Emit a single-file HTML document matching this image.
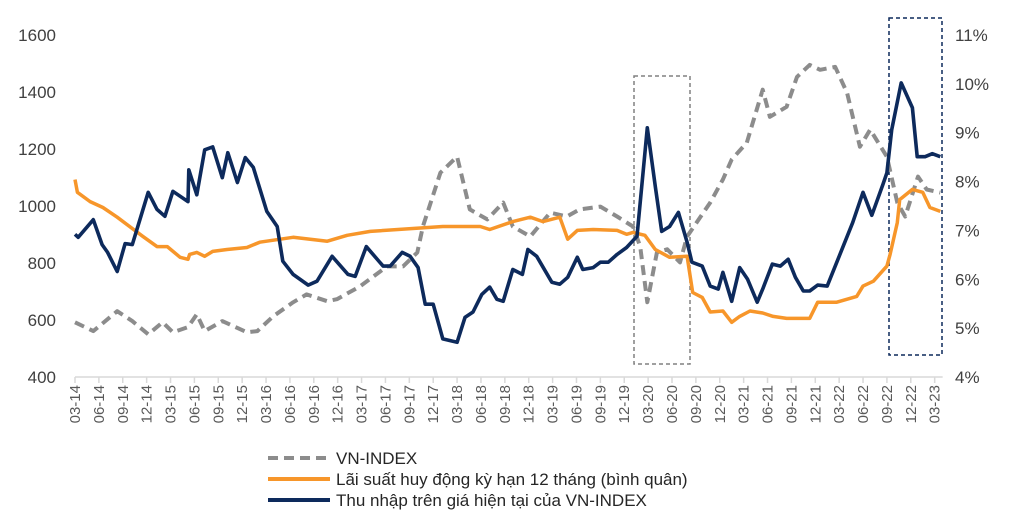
<!DOCTYPE html>
<html><head><meta charset="utf-8"><style>
body{margin:0;background:#fff;width:1016px;height:524px;overflow:hidden;font-family:"Liberation Sans",sans-serif}
svg text{font-family:"Liberation Sans",sans-serif}
</style></head><body>
<svg id="chart" width="1016" height="524" xmlns="http://www.w3.org/2000/svg"></svg>
<script>
const xLabels=["03-14","06-14","09-14","12-14","03-15","06-15","09-15","12-15","03-16","06-16","09-16","12-16","03-17","06-17","09-17","12-17","03-18","06-18","09-18","12-18","03-19","06-19","09-19","12-19","03-20","06-20","09-20","12-20","03-21","06-21","09-21","12-21","03-22","06-22","09-22","12-22","03-23"];
const leftTicks=[400,600,800,1000,1200,1400,1600];
const rightTicks=[4,5,6,7,8,9,10,11];
const vnMonths=[0,2.3,5.3,7.2,9.2,11,12.3,14.2,15.3,16.3,18.5,21.6,22.9,24.9,27.4,29.1,31.7,32.9,35.8,39.2,41.2,43,43.7,45.9,48,49.6,51.8,53.8,55,57.2,59.7,61.8,63.4,66,68.1,70.1,71,71.9,73.1,74.4,76,76.9,79.8,81.4,82.5,84.4,86.4,87.3,89.4,90.7,92.3,93.6,95.5,97,98.6,99.9,102,103.3,104.3,105.9,107,108.7];
const vnValues=[592,561,631,596,550,592,557,575,620,561,596,557,561,613,662,690,666,673,718,788,788,837,928,1117,1173,988,953,1012,928,893,977,963,988,998,963,928,858,662,837,848,802,893,1012,1093,1163,1222,1408,1313,1348,1453,1495,1478,1488,1397,1208,1268,1173,1012,963,1103,1058,1047];
const rateMonths=[0,0.3,1.9,3.5,5.3,8.5,10.3,11.6,13.2,14.2,14.4,15.3,16.3,17.3,19.1,21.6,23.2,27.4,31.7,34.2,37.1,46.2,50.9,52.1,55,57.2,58.8,60.9,61.9,63.1,65.1,68.1,69.3,70.1,71.6,72.9,74.7,76.9,77.6,78.8,79.8,81.4,82.5,83.5,84.8,86.4,87.7,89.4,92.3,93.3,95.7,98.2,99,100.3,102,102.4,103.3,103.6,105.2,106.5,107.4,108.7];
const rateValues=[8.04,7.78,7.59,7.47,7.27,6.88,6.67,6.67,6.45,6.41,6.51,6.55,6.47,6.57,6.61,6.65,6.76,6.86,6.78,6.90,6.98,7.08,7.08,7.02,7.18,7.27,7.18,7.27,6.82,7.0,7.02,7.0,6.92,6.96,6.90,6.61,6.45,6.47,5.73,5.63,5.33,5.35,5.12,5.24,5.35,5.31,5.24,5.20,5.20,5.53,5.53,5.65,5.86,5.96,6.27,6.51,7.16,7.63,7.84,7.78,7.47,7.39];
const eyMonths=[0,0.4,2.3,3.4,4.1,5.3,6.3,7.2,9.2,10.3,11.3,12.3,14.2,14.3,15.3,16.3,17.3,18.5,19.2,20.4,21.4,22.4,24.1,25.4,26.1,27.4,29.3,30.4,32.3,34.3,35.2,36.6,38.7,39.6,41.1,42.1,43.1,44,45,46.2,48,49,50,51.1,52.1,53,53.8,55,56.2,56.9,58,59.9,60.9,61.9,63.1,63.8,65.1,66,67,68.1,69.3,70.6,71.9,72.9,73.7,74.7,75.8,76.9,77.5,78.8,79.8,80.8,81.4,82.5,83.5,84.5,85.7,86.4,87.6,88.6,89.6,90.5,91.5,92.3,93.3,94.5,95.7,97.7,99,100.1,101.5,102,102.6,103.8,105.2,105.8,106.8,107.7,108.7];
const eyValues=[6.92,6.86,7.22,6.71,6.55,6.16,6.73,6.71,7.78,7.43,7.29,7.80,7.59,8.24,7.73,8.65,8.71,8.08,8.59,7.98,8.49,8.29,7.39,7.08,6.37,6.10,5.88,5.96,6.47,6.10,6.06,6.67,6.27,6.27,6.55,6.47,6.24,5.49,5.49,4.78,4.71,5.22,5.33,5.69,5.84,5.59,5.55,6.20,6.10,6.61,6.47,5.94,5.90,6.04,6.45,6.20,6.24,6.35,6.35,6.51,6.65,6.88,9.10,7.90,6.98,7.08,7.37,6.76,6.35,6.27,5.86,5.80,6.14,5.55,6.24,6.0,5.53,5.80,6.31,6.27,6.41,6.04,5.76,5.76,5.88,5.86,6.35,7.16,7.78,7.31,7.94,8.18,9.06,10.02,9.51,8.51,8.51,8.57,8.51];

const NS="http://www.w3.org/2000/svg";
const svg=document.getElementById('chart');
const X0=75,DX=7.96,YT=35,YB=377;
const xM=m=>X0+m*DX;
const yL=v=>YB-(v-400)/1200*(YB-YT);
const yR=p=>YB-(p-4)/7*(YB-YT);
function mk(tag,attrs,parent){const e=document.createElementNS(NS,tag);for(const k in attrs)e.setAttribute(k,attrs[k]);(parent||svg).appendChild(e);return e;}

const ax=mk('line',{x1:X0,y1:YB,x2:X0+36*3*DX+8,y2:YB,stroke:'#d9d9d9','stroke-width':1.5});


xLabels.forEach((l,i)=>{
  const x=xM(i*3);
  const t=mk('line',{x1:x,y1:YB,x2:x,y2:YB+6,stroke:'#d9d9d9','stroke-width':1.5});
  
  
  const tx=mk('text',{x:0,y:0,transform:`translate(${x+5},${YB+8}) rotate(-90)`,'text-anchor':'end','font-size':15,fill:'#595959'});
  tx.textContent=l;
  
  
});
leftTicks.forEach(v=>{
  const t=mk('text',{x:56,y:yL(v)+6,'text-anchor':'end','font-size':17,fill:'#404040'});
  t.textContent=v;
  
  
});
rightTicks.forEach(p=>{
  const t=mk('text',{x:955,y:yR(p)+6,'text-anchor':'start','font-size':17,fill:'#404040'});
  t.textContent=p+'%';
  
  
});
const b1=mk('rect',{x:634,y:76,width:56,height:288,fill:'none',stroke:'#808080','stroke-width':1.5,'stroke-dasharray':'4,3'});


const b2=mk('rect',{x:889,y:18,width:53,height:337,fill:'none',stroke:'#0d2a5c','stroke-width':1.5,'stroke-dasharray':'4,3'});



function path(ms,vs,yf){return ms.map((m,i)=>(i?'L':'M')+xM(m).toFixed(1)+','+yf(vs[i]).toFixed(1)).join('');}
const pv=mk('path',{d:path(vnMonths,vnValues,yL),fill:'none',stroke:'#8c8c8c','stroke-width':4,'stroke-dasharray':'10,6','stroke-linejoin':'round'});


const pr=mk('path',{d:path(rateMonths,rateValues,yR),fill:'none',stroke:'#f7962a','stroke-width':3.5,'stroke-linejoin':'round'});


const pe=mk('path',{d:path(eyMonths,eyValues,yR),fill:'none',stroke:'#0d2a5c','stroke-width':3.6,'stroke-linejoin':'round'});



const leg=[["VN-INDEX",'#8c8c8c','10,6',458,'legend-vn-index'],["Lãi suất huy động kỳ hạn 12 tháng (bình quân)",'#f7962a','',479,'legend-deposit-rate'],["Thu nhập trên giá hiện tại của VN-INDEX",'#0d2a5c','',500,'legend-earnings-yield']];
leg.forEach(e=>{
  const g=mk('g',{});
  
  
  const a={x1:268,y1:e[3],x2:330,y2:e[3],stroke:e[1],'stroke-width':4};
  if(e[2])a['stroke-dasharray']=e[2];
  mk('line',a,g);
  const t=mk('text',{x:336,y:e[3]+6,'font-size':17,fill:'#262626'},g);
  t.textContent=e[0];
});
</script>
</body></html>
